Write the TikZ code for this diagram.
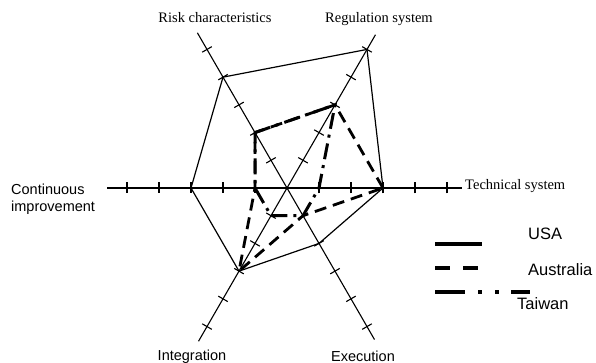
\documentclass[tikz,border=0pt]{standalone}
\usepackage{fontspec}
\setmainfont{Liberation Serif}
\newfontfamily\arialf{Liberation Sans}
\begin{document}
\begin{tikzpicture}[x=32pt,y=32pt,
  axisline/.style={line width=1.1pt},
  tickmark/.style={line width=1.1pt},
  usa/.style={line width=1.2pt, line join=miter},
  aus/.style={line width=2.8pt, dash pattern=on 12pt off 7pt},
  twn/.style={line width=3pt, dash pattern=on 16pt off 6pt on 3pt off 6pt},
  serlab/.style={font=\fontsize{14.5}{17}\selectfont, inner sep=0pt},
  sanslab/.style={font=\arialf\fontsize{14.5}{16.7}\selectfont, inner sep=0pt},
  leglab/.style={font=\arialf\fontsize{16.5}{19}\selectfont, inner sep=0pt, anchor=base west},
  legline/.style={line width=4pt},
]
\useasboundingbox (-287pt,-175pt) rectangle (309pt,188pt);
% axes
\coordinate (O) at (0,0);
\foreach \a/\l in {0/5.46, 60/5.53, 120/5.6, 180/5.62, 240/5.53, 300/5.47}{
  \coordinate (e\a) at (\a:\l);
  \draw[axisline] (O) -- (e\a);
  \foreach \r in {1,...,5}{
    \draw[tickmark, shift={(\a:\r)}, rotate=\a] (0,-5.5pt) -- (0,5.5pt);
  }
}
% data points
\coordinate (u0) at (0:3);   \coordinate (u60) at (60:5);  \coordinate (u120) at (120:4);
\coordinate (u180) at (180:3); \coordinate (u240) at (240:3); \coordinate (u300) at (300:2);
\coordinate (a0) at (0:3);   \coordinate (a60) at (60:3);  \coordinate (a120) at (120:2);
\coordinate (a180) at (180:1); \coordinate (a240) at (240:3); \coordinate (a300) at (300:1);
\coordinate (t0) at (0:1);   \coordinate (t60) at (60:3);  \coordinate (t120) at (120:2);
\coordinate (t180) at (180:1); \coordinate (t240) at (240:1); \coordinate (t300) at (300:1);
\draw[usa] (u0) -- (u60) -- (u120) -- (u180) -- (u240) -- (u300) -- cycle;
\draw[aus] (a0) -- (a60) -- (a120) -- (a180) -- (a240) -- (a300) -- cycle;
\draw[twn] (t120) -- (t60) -- (t0) -- (t300) -- (t240) -- (t180) -- cycle;
% labels
\node[serlab, anchor=base] (risk) at (-72pt,165.7pt) {Risk characteristics};
\node[serlab, anchor=base] (reg) at (92pt,165.7pt) {Regulation system};
\node[serlab, anchor=base west] (tech) at (178pt,-2pt) {Technical system};
\node[sanslab, anchor=base west, align=left] (cont) at (-276pt,-23.7pt) {Continuous\\improvement};
\node[sanslab, anchor=base] (integ) at (-95pt,-172.4pt) {Integration};
\node[sanslab, anchor=base] (exec) at (76pt,-173pt) {Execution};
% legend
\coordinate (lu1) at (148pt,-56pt);   \coordinate (lu2) at (194.7pt,-56pt);
\coordinate (la1) at (148pt,-79.7pt); \coordinate (la2) at (192pt,-79.7pt);
\coordinate (lt1) at (148pt,-103.7pt); \coordinate (lt2) at (243pt,-103.7pt);
\draw[legline] (lu1) -- (lu2);
\draw[legline, dash pattern=on 15pt off 13pt] (la1) -- (la2);
\draw[legline, dash pattern=on 30pt off 13pt on 4pt off 13pt on 4pt off 12pt] (lt1) -- (lt2);
\node[leglab] (lusa) at (241pt,-51.3pt) {USA};
\node[leglab] (laus) at (241pt,-87.7pt) {Australia};
\node[leglab] (ltwn) at (230pt,-122pt) {Taiwan};
\end{tikzpicture}
\end{document}
